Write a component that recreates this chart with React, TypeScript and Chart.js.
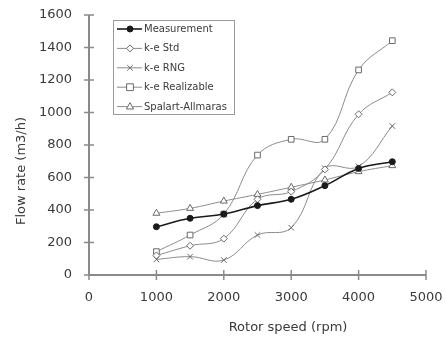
import { useEffect, useRef } from "react";
import { Chart, registerables } from "chart.js";
Chart.register(...registerables);

const rpm = [1000, 1500, 2000, 2500, 3000, 3500, 4000, 4500];
const measurement = [297, 349, 375, 427, 466, 550, 656, 697];
const keStd = [120, 180, 224, 466, 513, 650, 989, 1124];
const keRng = [96, 113, 92, 246, 291, 656, 668, 917];
const keRealizable = [144, 246, 375, 738, 835, 835, 1262, 1442];
const spalart = [380, 410, 455, 496, 540, 585, 636, 673];
const seriesNames = ["Measurement", "k-e Std", "k-e RNG", "k-e Realizable", "Spalart-Allmaras"];
const xTicks = [0, 1000, 2000, 3000, 4000, 5000];
const yTicks = [0, 200, 400, 600, 800, 1000, 1200, 1400, 1600];
const xTitle = "Rotor speed (rpm)";
const yTitle = "Flow rate (m3/h)";

const AXIS = "#8a8a8a";
const TEXT = "#3a3a3a";
const FONT = "DejaVu Sans";

export default function App() {
  const ref = useRef<HTMLCanvasElement | null>(null);
  useEffect(() => {
    const canvas = ref.current!;
    const mk = (vals: number[]) => rpm.map((x, i) => ({ x, y: vals[i] }));
    const styles = [
      { d: measurement, color: "#1a1a1a", ps: "circle", r: 3, bg: "#1a1a1a", w: 1.6 },
      { d: keStd, color: "#8c8c8c", ps: "rectRot", r: 3.5, bg: "#ffffff", w: 1 },
      { d: keRng, color: "#8c8c8c", ps: "crossRot", r: 4, bg: "#ffffff", w: 1 },
      { d: keRealizable, color: "#8c8c8c", ps: "rect", r: 4, bg: "#ffffff", w: 1 },
      { d: spalart, color: "#8c8c8c", ps: "triangle", r: 4, bg: "#ffffff", w: 1 },
    ];
    const datasets = styles.map((s, i) => ({
      label: seriesNames[i],
      data: mk(s.d),
      borderColor: s.color,
      borderWidth: s.w,
      pointStyle: s.ps,
      pointRadius: s.r,
      pointBackgroundColor: s.bg,
      pointBorderColor: i === 0 ? "#1a1a1a" : "#6a6a6a",
      pointBorderWidth: 1,
      tension: 0.4,
      fill: false,
    }));

    function drawPoint(ctx: CanvasRenderingContext2D, style: string, r: number, x: number, y: number) {
      ctx.beginPath();
      if (style === "circle") {
        ctx.arc(x, y, r, 0, Math.PI * 2);
        ctx.fill();
        ctx.stroke();
      } else if (style === "rect") {
        ctx.rect(x - r * 0.85, y - r * 0.85, r * 1.7, r * 1.7);
        ctx.fill();
        ctx.stroke();
      } else if (style === "rectRot") {
        ctx.moveTo(x, y - r);
        ctx.lineTo(x + r, y);
        ctx.lineTo(x, y + r);
        ctx.lineTo(x - r, y);
        ctx.closePath();
        ctx.fill();
        ctx.stroke();
      } else if (style === "triangle") {
        ctx.moveTo(x, y - r);
        ctx.lineTo(x + r * 0.9, y + r * 0.6);
        ctx.lineTo(x - r * 0.9, y + r * 0.6);
        ctx.closePath();
        ctx.fill();
        ctx.stroke();
      } else if (style === "crossRot") {
        const d = r * 0.7;
        ctx.moveTo(x - d, y - d);
        ctx.lineTo(x + d, y + d);
        ctx.moveTo(x + d, y - d);
        ctx.lineTo(x - d, y + d);
        ctx.stroke();
      }
    }

    const axesPlugin = {
      id: "axesDeco",
      afterDatasetsDraw(chart: any) {
        const ctx = chart.ctx;
        const xs = chart.scales.x;
        const ys = chart.scales.y;
        const { left, right, top, bottom } = chart.chartArea;
        ctx.save();
        ctx.strokeStyle = AXIS;
        ctx.lineWidth = 2;
        ctx.beginPath();
        ctx.moveTo(left, top);
        ctx.lineTo(left, bottom);
        ctx.lineTo(right, bottom);
        ctx.stroke();
        ctx.lineWidth = 1.5;
        xTicks.forEach((v) => {
          const p = xs.getPixelForValue(v);
          ctx.beginPath();
          ctx.moveTo(p, bottom - 5);
          ctx.lineTo(p, bottom + 5);
          ctx.stroke();
        });
        yTicks.forEach((v) => {
          const p = ys.getPixelForValue(v);
          ctx.beginPath();
          ctx.moveTo(left - 5, p);
          ctx.lineTo(left + 5, p);
          ctx.stroke();
        });
        ctx.fillStyle = TEXT;
        ctx.font = `13px "${FONT}"`;
        ctx.textAlign = "right";
        ctx.textBaseline = "middle";
        yTicks.forEach((v) => ctx.fillText(String(v), left - 17, ys.getPixelForValue(v)));
        ctx.textAlign = "center";
        xTicks.forEach((v) => ctx.fillText(String(v), xs.getPixelForValue(v), bottom + 23));
        ctx.fillText(xTitle, 288, 328);
        ctx.save();
        ctx.translate(22, 171);
        ctx.rotate(-Math.PI / 2);
        ctx.fillText(yTitle, 0, 0);
        ctx.restore();

        // legend
        const bx = 113, by = 20, bw = 121, bh = 94;
        ctx.fillStyle = "#ffffff";
        ctx.fillRect(bx, by, bw, bh);
        ctx.strokeStyle = "#9a9a9a";
        ctx.lineWidth = 1;
        ctx.strokeRect(bx + 0.5, by + 0.5, bw, bh);
        ctx.font = `10px "${FONT}"`;
        ctx.textAlign = "left";
        chart.data.datasets.forEach((ds: any, i: number) => {
          const yy = 29 + i * 19.4;
          ctx.strokeStyle = ds.borderColor;
          ctx.lineWidth = ds.borderWidth;
          ctx.beginPath();
          ctx.moveTo(117, yy);
          ctx.lineTo(142, yy);
          ctx.stroke();
          ctx.lineWidth = 1;
          ctx.strokeStyle = ds.pointBorderColor;
          ctx.fillStyle = ds.pointBackgroundColor;
          drawPoint(ctx, ds.pointStyle, ds.pointRadius, 130, yy);
          ctx.fillStyle = TEXT;
          ctx.fillText(ds.label, 144, yy + 0.5);
        });
        ctx.restore();
      },
    };

    const chart = new Chart(canvas, {
      type: "line",
      data: { datasets: datasets as any },
      options: {
        responsive: false,
        animation: false,
        layout: { padding: { left: 89, right: 20, top: 15, bottom: 62 } },
        plugins: { legend: { display: false }, tooltip: { enabled: false } },
        scales: {
          x: { type: "linear", display: false, min: 0, max: 5000 },
          y: { type: "linear", display: false, min: 0, max: 1600 },
        },
      },
      plugins: [axesPlugin],
    });
    return () => chart.destroy();
  }, []);
  return (
    <div style={{ position: "absolute", left: 0, top: 0, width: 446, height: 337, background: "#fff" }}>
      <canvas ref={ref} width={446} height={337} />
    </div>
  );
}
